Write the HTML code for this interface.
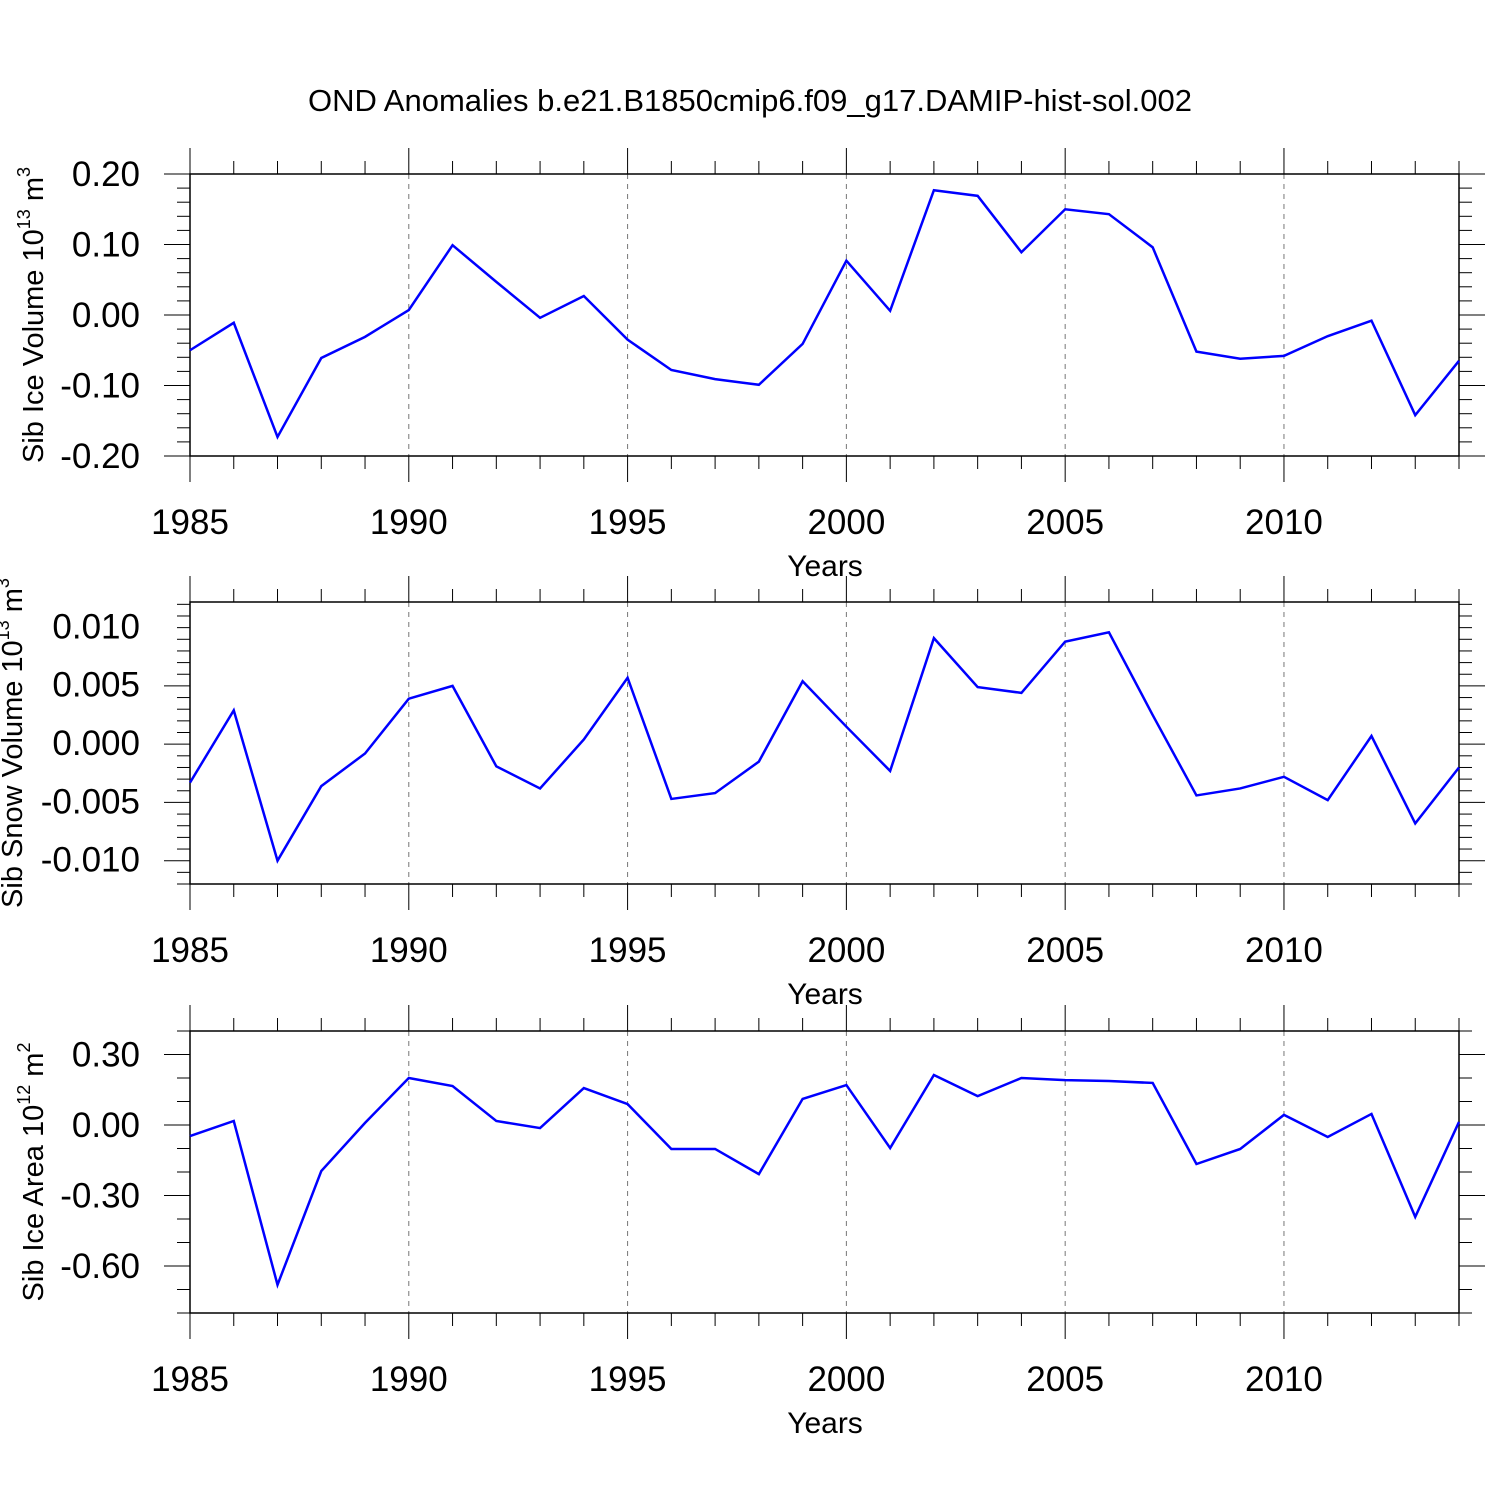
<!DOCTYPE html>
<html><head><meta charset="utf-8"><style>body{margin:0;background:#fff}svg{display:block}</style></head>
<body>
<svg id="chart" width="1500" height="1500" xmlns="http://www.w3.org/2000/svg" font-family="Liberation Sans, sans-serif">
<rect width="1500" height="1500" fill="#fff"/>
<text x="750" y="111" text-anchor="middle" font-size="31">OND Anomalies b.e21.B1850cmip6.f09_g17.DAMIP-hist-sol.002</text>
</svg>
<script>
const years = [1985,1986,1987,1988,1989,1990,1991,1992,1993,1994,1995,1996,1997,1998,1999,2000,2001,2002,2003,2004,2005,2006,2007,2008,2009,2010,2011,2012,2013,2014];
const iceVolume = [-0.050,-0.011,-0.173,-0.061,-0.031,0.007,0.099,0.047,-0.004,0.027,-0.035,-0.078,-0.091,-0.099,-0.041,0.077,0.006,0.177,0.169,0.089,0.150,0.143,0.096,-0.052,-0.062,-0.058,-0.030,-0.008,-0.142,-0.065];
const snowVolume = [-0.0034,0.0028,-0.0101,-0.0037,-0.0009,0.0038,0.0049,-0.0020,-0.0039,0.0003,0.0056,-0.0048,-0.0043,-0.0016,0.0053,0.0014,-0.0024,0.0090,0.0048,0.0043,0.0087,0.0095,0.0024,-0.0045,-0.0039,-0.0029,-0.0049,0.0006,-0.0069,-0.0021];
const iceArea = [-0.047,0.017,-0.68,-0.196,0.009,0.20,0.166,0.017,-0.013,0.157,0.089,-0.102,-0.102,-0.209,0.111,0.170,-0.098,0.213,0.123,0.20,0.191,0.187,0.179,-0.166,-0.102,0.043,-0.051,0.047,-0.391,0.013];
const xTickYears = [1985,1990,1995,2000,2005,2010];
const iceVolTicks = [0.20,0.10,0.00,-0.10,-0.20];
const iceVolTickLabels = ["0.20","0.10","0.00","-0.10","-0.20"];
const snowTicks = [0.010,0.005,0.000,-0.005,-0.010];
const snowTickLabels = ["0.010","0.005","0.000","-0.005","-0.010"];
const areaTicks = [0.30,0.00,-0.30,-0.60];
const areaTickLabels = ["0.30","0.00","-0.30","-0.60"];

const NS="http://www.w3.org/2000/svg";
const svg=document.getElementById('chart');
function mk(tag,attrs,parent){const e=document.createElementNS(NS,tag);for(const k in attrs)e.setAttribute(k,attrs[k]);(parent||svg).appendChild(e);return e;}
const X0=190,X1=1459;
const xs=y=>X0+(y-1985)*(X1-X0)/29;

function panel(name,top,ymin,ymax,minorStep,ticks,labels,vals,ylab,sup,unitSup,titleX){
  const bot=top+282;
  const g=mk('g',{});
  
  
  const ys=v=>bot-(v-ymin)/(ymax-ymin)*(bot-top);
  xTickYears.slice(1).forEach(y=>{const l=mk('line',{x1:xs(y),x2:xs(y),y1:top,y2:bot,stroke:'#777','stroke-width':1,'stroke-dasharray':'5,5'},g);
    });
  for(let y=1985;y<=2014;y++){const maj=xTickYears.includes(y);const len=maj?26:13;
    mk('line',{x1:xs(y),x2:xs(y),y1:bot,y2:bot+len,stroke:'#000','stroke-width':1},g);
    mk('line',{x1:xs(y),x2:xs(y),y1:top,y2:top-len,stroke:'#000','stroke-width':1},g);}
  const n=Math.round((ymax-ymin)/minorStep);
  for(let i=0;i<=n;i++){const v=ymin+i*minorStep;const maj=ticks.some(t=>Math.abs(t-v)<minorStep/10);const len=maj?26:13;
    mk('line',{x1:X0-len,x2:X0,y1:ys(v),y2:ys(v),stroke:'#000','stroke-width':1},g);
    mk('line',{x1:X1,x2:X1+len,y1:ys(v),y2:ys(v),stroke:'#000','stroke-width':1},g);}
  ticks.forEach((t,i)=>{const tx=mk('text',{x:140,y:ys(t)+12,'text-anchor':'end','font-size':35},g);tx.textContent=labels[i];
    });
  xTickYears.forEach(y=>{const tx=mk('text',{x:xs(y),y:bot+78,'text-anchor':'middle','font-size':35},g);tx.textContent=y;
    });
  const xt=mk('text',{x:825,y:bot+120,'text-anchor':'middle','font-size':30},g);xt.textContent='Years';
  
  const yt=mk('text',{transform:`translate(${titleX},${(top+bot)/2}) rotate(-90)`,'text-anchor':'middle','font-size':29},g);
  yt.innerHTML=ylab+' 10<tspan font-size="18" dy="-13">'+sup+'</tspan><tspan dy="13"> m</tspan><tspan font-size="18" dy="-13">'+unitSup+'</tspan>';
  
  mk('rect',{x:X0,y:top,width:X1-X0,height:bot-top,fill:'none',stroke:'#000','stroke-width':1.5},g);
  const pts=vals.map((v,i)=>xs(years[i])+','+ys(v)).join(' ');
  const pl=mk('polyline',{points:pts,fill:'none',stroke:'#0000ff','stroke-width':2.5,'stroke-linejoin':'miter'},g);
  
}
panel('ice-volume',174,-0.20,0.20,0.02,iceVolTicks,iceVolTickLabels,iceVolume,'Sib Ice Volume','13','3',43);
panel('snow-volume',602,-0.0121,0.0121,0.001,snowTicks,snowTickLabels,snowVolume,'Sib Snow Volume','13','3',22);
panel('ice-area',1031,-0.80,0.40,0.1,areaTicks,areaTickLabels,iceArea,'Sib Ice Area','12','2',43);
</script>
</body></html>
